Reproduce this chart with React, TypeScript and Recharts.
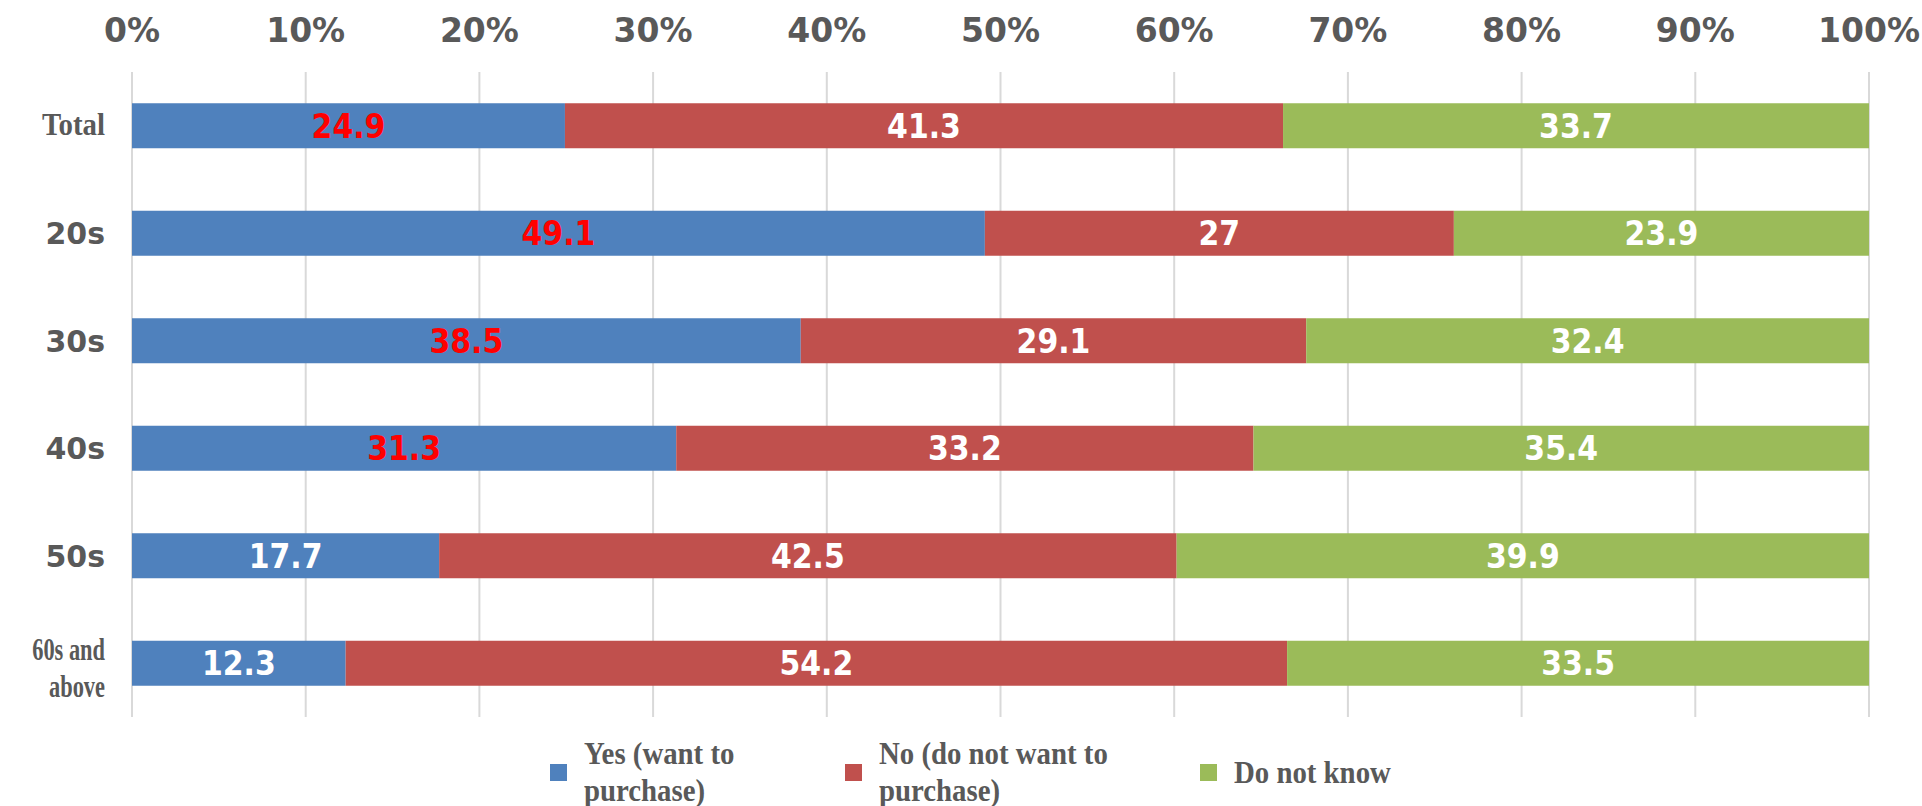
import React from 'react'
import {
  BarChart,
  Bar,
  XAxis,
  YAxis,
  CartesianGrid,
  LabelList,
  Legend,
} from 'recharts'

const categories = ['Total', '20s', '30s', '40s', '50s', '60s and above']
const yesValues = [24.9, 49.1, 38.5, 31.3, 17.7, 12.3]
const noValues = [41.3, 27, 29.1, 33.2, 42.5, 54.2]
const dkValues = [33.7, 23.9, 32.4, 35.4, 39.9, 33.5]
const xTicks = [0, 0.1, 0.2, 0.3, 0.4, 0.5, 0.6, 0.7, 0.8, 0.9, 1]

const SERIES = [
  { key: 'yes', label: 'Yes (want to purchase)', lines: ['Yes (want to', 'purchase)'], color: '#4f81bd' },
  { key: 'no', label: 'No (do not want to purchase)', lines: ['No (do not want to', 'purchase)'], color: '#c0504d' },
  { key: 'dk', label: 'Do not know', lines: ['Do not know'], color: '#9bbb59' },
]

const data = categories.map((name, i) => ({
  name,
  yes: yesValues[i],
  no: noValues[i],
  dk: dkValues[i],
}))

const SANS = '"DejaVu Sans", Verdana, sans-serif'
const SERIF = '"Liberation Serif", "Times New Roman", serif'
const GREY = '#595959'

function XTick({ x, y, payload }: any) {
  return (
    <text
      x={x}
      y={y - 22}
      textAnchor="middle"
      fill={GREY}
      fontFamily={SANS}
      fontWeight="bold"
      fontSize={33}
    >
      {`${Math.round(payload.value * 100)}%`}
    </text>
  )
}

function YTick({ x, y, payload }: any) {
  const v: string = payload.value
  if (v === 'Total') {
    return (
      <g transform={`translate(${x - 19},${y + 9}) scale(0.9,1)`}>
        <text x={0} y={0} textAnchor="end" fill={GREY} fontFamily={SERIF} fontWeight="bold" fontSize={32}>
          Total
        </text>
      </g>
    )
  }
  if (v === '60s and above') {
    return (
      <g transform={`translate(${x - 19},${y}) scale(0.7,1)`}>
        <text textAnchor="end" fill={GREY} fontFamily={SERIF} fontWeight="bold" fontSize={32}>
          <tspan x={0} y={-3}>60s and</tspan>
          <tspan x={0} y={34}>above</tspan>
        </text>
      </g>
    )
  }
  return (
    <text x={x - 19} y={y + 11} textAnchor="end" fill={GREY} fontFamily={SANS} fontWeight="bold" fontSize={30}>
      {v}
    </text>
  )
}

function makeLabel(key: string) {
  return (props: any) => {
    const { x, y, width, height, value, index } = props
    const fill = key === 'yes' && index < 4 ? '#ff0000' : '#ffffff'
    return (
      <g transform={`translate(${x + width / 2},${y + height / 2 + 12}) scale(0.88,1)`}>
        <text x={0} y={0} textAnchor="middle" fill={fill} fontFamily={SANS} fontWeight="bold" fontSize={34}>
          {value}
        </text>
      </g>
    )
  }
}

function LegendContent() {
  const lefts = [550, 845, 1200]
  return (
    <div style={{ position: 'relative', width: 1922, height: 80 }}>
      {SERIES.map((s, i) => (
        <div
          key={s.key}
          style={{ position: 'absolute', left: lefts[i], top: 0, display: 'flex', alignItems: 'center', height: 80 }}
        >
          <span style={{ display: 'inline-block', width: 17, height: 17, background: s.color, marginRight: 17 }} />
          <div
            style={{
              fontFamily: SERIF,
              fontWeight: 'bold',
              fontSize: 32,
              color: GREY,
              lineHeight: '37px',
              transform: 'scaleX(0.9)',
              transformOrigin: 'left center',
              whiteSpace: 'nowrap',
            }}
          >
            {s.lines.map((l) => (
              <div key={l}>{l}</div>
            ))}
          </div>
        </div>
      ))}
    </div>
  )
}

export default function App() {
  return (
    <div style={{ position: 'absolute', left: 0, top: 0, width: 1922, height: 806, background: '#fff' }}>
      <BarChart
        width={1922}
        height={806}
        data={data}
        layout="vertical"
        stackOffset="expand"
        barCategoryGap="29%"
        margin={{ top: 0, right: 53, bottom: 9, left: 0 }}
      >
        <CartesianGrid horizontal={false} stroke="#d9d9d9" strokeWidth={2} />
        <XAxis
          type="number"
          orientation="top"
          domain={[0, 1]}
          ticks={xTicks}
          height={72}
          axisLine={false}
          tickLine={false}
          tick={<XTick />}
          interval={0}
        />
        <YAxis
          type="category"
          dataKey="name"
          width={132}
          axisLine={false}
          tickLine={false}
          tick={<YTick />}
          interval={0}
        />
        <Legend
          verticalAlign="bottom"
          content={<LegendContent />}
          wrapperStyle={{ left: 0, top: 732, width: 1922, height: 80 }}
        />
        {SERIES.map((s) => (
          <Bar key={s.key} dataKey={s.key} name={s.label} stackId="a" fill={s.color} isAnimationActive={false}>
            <LabelList dataKey={s.key} content={makeLabel(s.key)} />
          </Bar>
        ))}
      </BarChart>
    </div>
  )
}
